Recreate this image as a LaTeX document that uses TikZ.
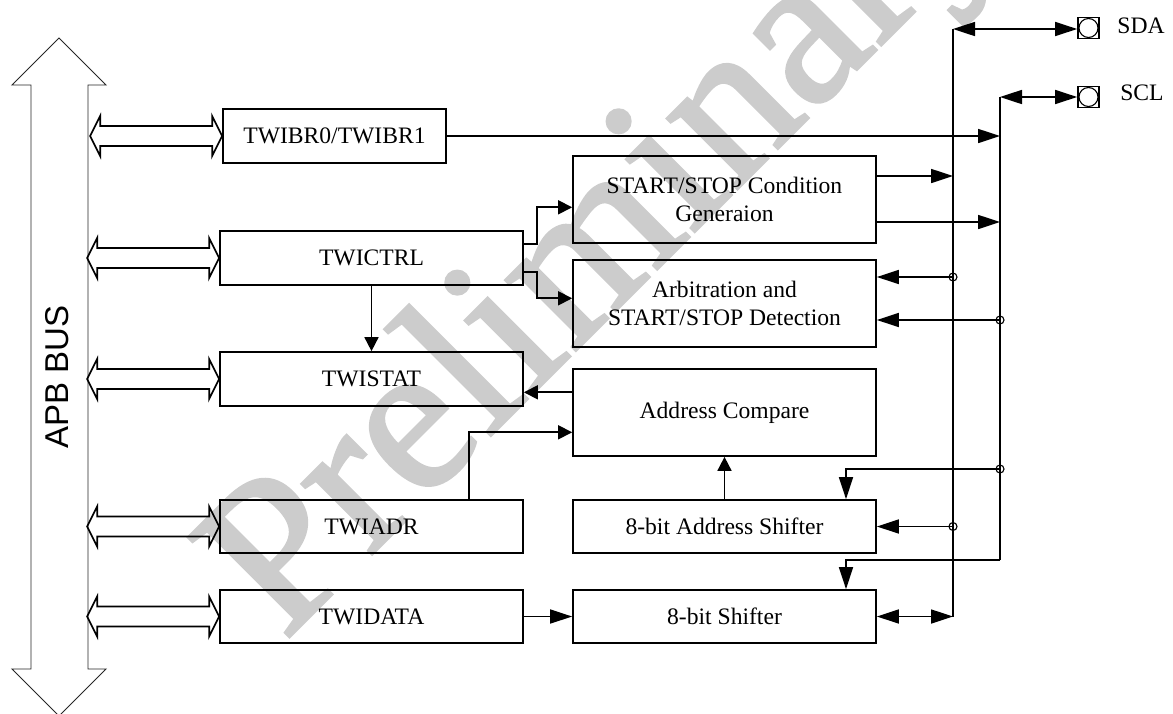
\documentclass[tikz,border=0pt]{standalone}
\usepackage{fontspec}
\setmainfont{Liberation Serif}
\setsansfont{Liberation Sans}
\newfontfamily\wmfont[FakeBold=1.5]{Liberation Serif}
\usetikzlibrary{arrows.meta}

\begin{document}
\begin{tikzpicture}[x=1pt, y=-1pt,
  blk/.style={draw, line width=1.7pt, inner sep=0pt, align=center, minimum width=303pt, minimum height=54pt, font=\fontsize{23.6}{27.5}\selectfont},
  wire/.style={line width=1.7pt},
  big/.style={wire, -{Triangle[length=22pt, width=14pt]}},
  bigboth/.style={wire, {Triangle[length=22pt, width=14pt]}-{Triangle[length=22pt, width=14pt]}},
  sml/.style={wire, -{Triangle[length=14pt, width=14pt]}},
  tap/.style={line width=1.1pt}]
\useasboundingbox (0,0) rectangle (1173,713);

% Watermark behind everything
\node[rotate=45, anchor=base west, inner sep=0pt, text=black!20, font=\wmfont\fontsize{216}{216}\selectfont] (wm) at (284,642) {Preliminary};

% APB bus: big hollow double arrow
\draw[line width=0.9pt, black!85] (59,38) -- (106,85) -- (88,85) -- (88,669) -- (106,669) -- (59,716) -- (12,669) -- (31,669) -- (31,85) -- (12,85) -- cycle;
\node[rotate=90, inner sep=0pt, font=\sffamily\fontsize{33}{33}\selectfont] (apb) at (57.5,377) {APB BUS};

% Register blocks
\node[blk, minimum width=223pt] (br) at (334.5,136) {TWIBR0/TWIBR1};
\node[blk] (ctrl) at (371.5,258) {TWICTRL};
\node[blk] (stat) at (371.5,379) {TWISTAT};
\node[blk, minimum height=53pt] (adr) at (371.5,526.5) {TWIADR};
\node[blk, minimum height=53pt] (data) at (371.5,616.5) {TWIDATA};

% Logic blocks
\node[blk, minimum height=87pt] (gen) at (724.5,199.5) {START/STOP Condition\\Generaion};
\node[blk, minimum height=87pt] (arb) at (724.5,303.5) {Arbitration and\\START/STOP Detection};
\node[blk, minimum height=87pt] (cmp) at (724.5,412.5) {Address Compare};
\node[blk, minimum height=53pt] (ashf) at (724.5,526.5) {8-bit Address Shifter};
\node[blk, minimum height=53pt] (shf) at (724.5,616.5) {8-bit Shifter};

% Hollow bus arrows into the registers
\foreach \b in {br,ctrl,stat,adr,data} {
  \draw[wire] (\b.west) -- ++(-10,-20) -- ++(0,10) -- ++(-112,0) -- ++(0,-10) -- ++(-10,20) -- ++(10,20) -- ++(0,-10) -- ++(112,0) -- ++(0,10) -- cycle;
}

% SDA and SCL lines
\coordinate (sda0) at (953,29);
\coordinate (sda1) at (953,176);
\coordinate (sda2) at (953,277);
\coordinate (sda3) at (953,526.5);
\coordinate (sda4) at (953,616.5);
\coordinate (scl0) at (1000,97);
\coordinate (scl1) at (1000,136);
\coordinate (scl2) at (1000,222);
\coordinate (scl3) at (1000,320);
\coordinate (scl4) at (1000,469);
\coordinate (scl5) at (1000,560);
\draw[wire] (sda0) -- (sda4);
\draw[wire] (scl0) -- (scl5);

% Pins
\node[draw, wire, minimum size=21pt, inner sep=0pt] (sdapin) at (1088.5,28) {};
\node[draw, wire, minimum size=21pt, inner sep=0pt] (sclpin) at (1088.5,97) {};
\foreach \p in {sdapin,sclpin} \draw[tap] (\p) circle[radius=9.5pt];
\node[font=\fontsize{23.6}{27.5}\selectfont] (sdalab) at (1141,26) {SDA};
\node[font=\fontsize{23.6}{27.5}\selectfont] (scllab) at (1142,93) {SCL};
\draw[bigboth] (sda0) -- (sdapin.west |- sda0);
\draw[bigboth] (scl0) -- (sclpin.west |- scl0);

% Control paths
\draw[sml] ([yshift=13.7pt]ctrl.east) -- ++(13,0) |- ([yshift=-7.8pt]gen.west);
\draw[sml] ([yshift=-13.7pt]ctrl.east) -- ++(13,0) |- ([yshift=5.2pt]arb.west);
\draw[sml] (ctrl) -- (stat);
\draw[sml] ([yshift=20.2pt]cmp.west) -- ([yshift=20.2pt]cmp.west -| stat.east);
\draw[sml] ([xshift=97.5pt]adr.north) |- ([yshift=-19.8pt]cmp.west);
\draw[sml] (ashf) -- (cmp);
\draw[big] (data) -- (shf);

% Line side connections
\draw[big] (br.east) -- (scl1);
\draw[big] (gen.east |- sda1) -- (sda1);
\draw[big] (gen.east |- scl2) -- (scl2);
\draw[big] (sda2) -- (arb.east |- sda2);
\draw[big] (scl3) -- (arb.east |- scl3);
\draw[big] (scl4) -| ([xshift=121.5pt]ashf.north);
\draw[big] (sda3) -- (ashf.east);
\draw[big] (scl5) -| ([xshift=121.5pt]shf.north);
\draw[bigboth] (shf.east) -- (sda4);
\foreach \t in {sda2,sda3,scl3,scl4} \draw[tap] (\t) circle[radius=4pt];
\end{tikzpicture}
\end{document}
